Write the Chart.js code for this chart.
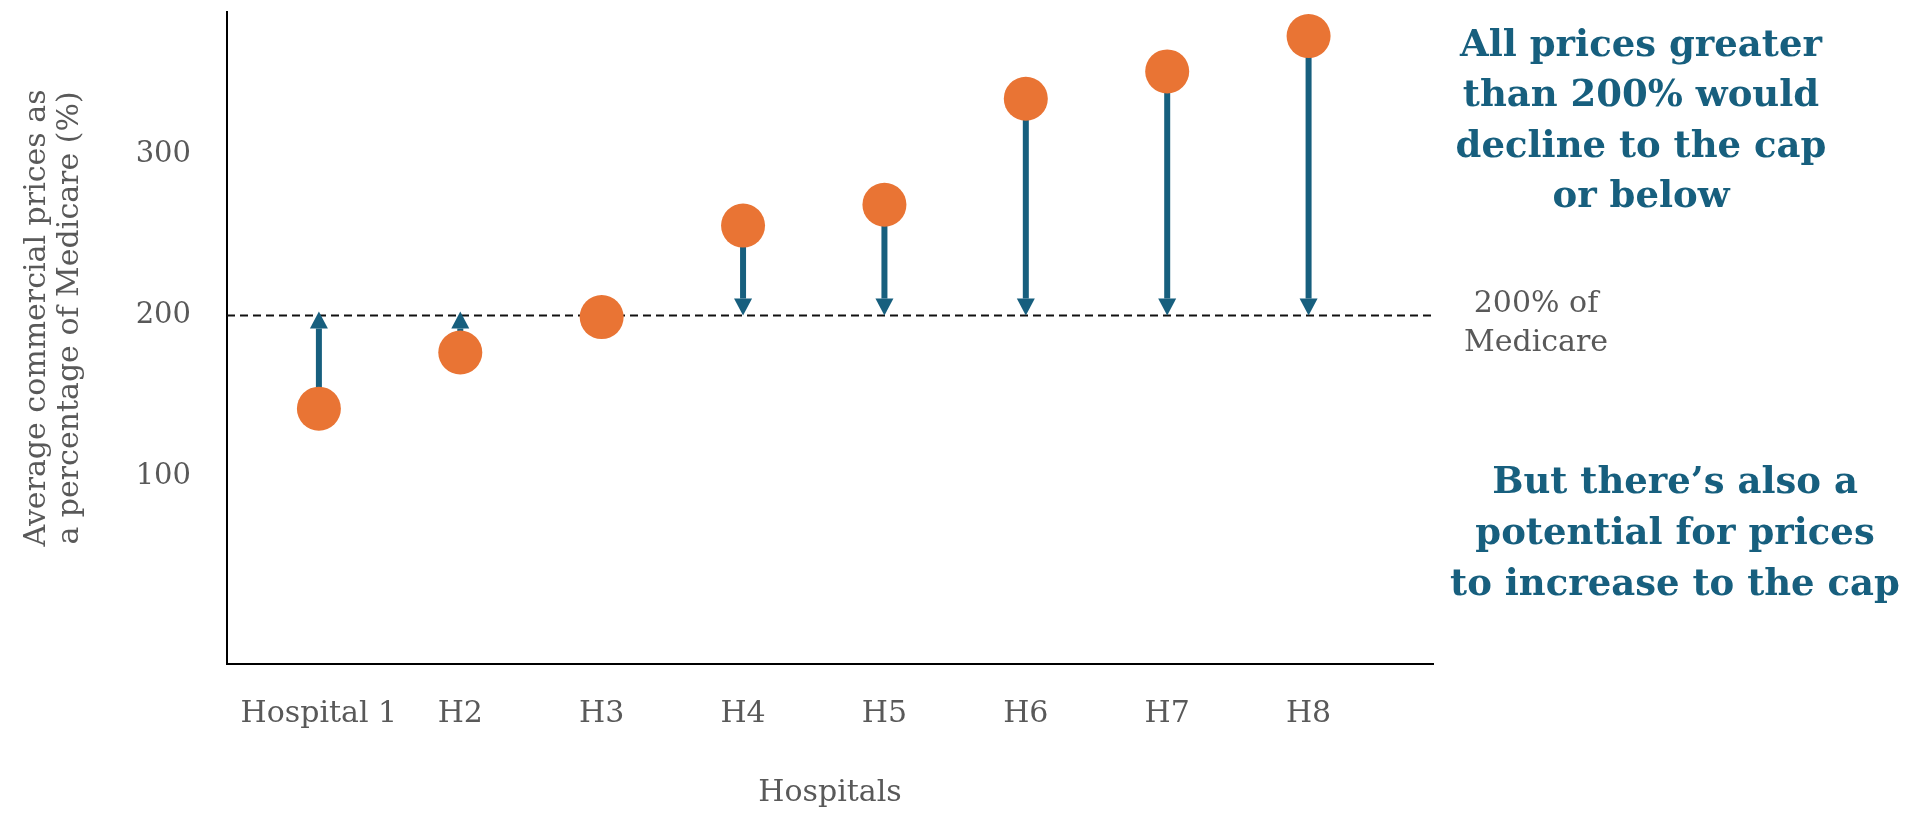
<!DOCTYPE html>
<html>
<head>
<meta charset="utf-8">
<script src="https://cdn.jsdelivr.net/npm/chart.js@4.4.1/dist/chart.umd.min.js"></script>
<style>
  html, body { margin: 0; padding: 0; background: #ffffff; overflow: hidden; }
  #wrap { position: relative; width: 1921px; height: 814px; }
</style>
</head>
<body>
<div id="wrap"><canvas id="chart"></canvas></div>
<script>
// Hospitals and their average commercial price as a % of Medicare
const hospitals = ['Hospital 1', 'H2', 'H3', 'H4', 'H5', 'H6', 'H7', 'H8'];
const pricePct = [142, 177, 199, 256, 269, 335, 352, 374];
// Proposed cap: 200% of Medicare
const capPct = 200;
const yTickValues = [100, 200, 300];

const yTitleLines = ['Average commercial prices as', 'a percentage of Medicare (%)'];
const xTitleText = 'Hospitals';
const capLabelLines = ['200% of', 'Medicare'];
const declineNote = ['All prices greater', 'than 200% would', 'decline to the cap', 'or below'];
const increaseNote = ['But there\u2019s also a', 'potential for prices', 'to increase to the cap'];

const ORANGE = '#E97434';
const TEAL = '#175F7E';
const GRAY = '#595959';
const SERIF = "'DejaVu Serif', 'Liberation Serif', serif";

// Arrows from each price to the cap, the dashed cap line, and the side notes
const capAnnotations = {
  id: 'capAnnotations',
  beforeDatasetsDraw(chart) {
    const { ctx, chartArea, scales: { x, y } } = chart;
    const yCap = y.getPixelForValue(capPct);

    // dashed cap line
    ctx.save();
    ctx.strokeStyle = '#111111';
    ctx.lineWidth = 2;
    ctx.setLineDash([8, 5]);
    ctx.beginPath();
    ctx.moveTo(chartArea.left, yCap);
    ctx.lineTo(chartArea.right, yCap);
    ctx.stroke();
    ctx.restore();

    // arrows
    const radius = chart.data.datasets[0].pointRadius;
    ctx.save();
    ctx.strokeStyle = TEAL;
    ctx.fillStyle = TEAL;
    ctx.lineWidth = 6;
    pricePct.forEach((v, i) => {
      const px = x.getPixelForValue(i);
      const py = y.getPixelForValue(v);
      if (Math.abs(py - yCap) <= radius) return;
      const up = py > yCap;
      const tip = up ? yCap - 4 : yCap;
      const headLen = 17, headHalf = 9;
      const base = up ? tip + headLen : tip - headLen;
      ctx.beginPath();
      ctx.moveTo(px, py);
      ctx.lineTo(px, base);
      ctx.stroke();
      ctx.beginPath();
      ctx.moveTo(px - headHalf, base);
      ctx.lineTo(px + headHalf, base);
      ctx.lineTo(px, tip);
      ctx.closePath();
      ctx.fill();
    });
    ctx.restore();
  },
  afterDraw(chart) {
    const { ctx, chartArea, scales: { y } } = chart;
    const yCap = y.getPixelForValue(capPct);
    ctx.save();
    ctx.textAlign = 'center';
    ctx.textBaseline = 'middle';

    // y-axis title, two rotated lines
    ctx.fillStyle = GRAY;
    ctx.font = `30px ${SERIF}`;
    const midY = (chartArea.top + chartArea.bottom) / 2 - 20;
    yTitleLines.forEach((line, i) => {
      ctx.save();
      ctx.translate(37 + i * 33, midY);
      ctx.rotate(-Math.PI / 2);
      ctx.fillText(line, 0, 0);
      ctx.restore();
    });

    // cap label
    capLabelLines.forEach((line, i) => {
      ctx.fillText(line, chartArea.right + 103, yCap - 11 + i * 39);
    });

    // notes
    ctx.fillStyle = TEAL;
    ctx.font = `bold 37px ${SERIF}`;
    declineNote.forEach((line, i) => {
      ctx.fillText(line, chartArea.right + 208, 46 + i * 50.5);
    });
    increaseNote.forEach((line, i) => {
      ctx.fillText(line, chartArea.right + 242, 483 + i * 51);
    });
    ctx.restore();
  }
};

new Chart(document.getElementById('chart'), {
  type: 'scatter',
  data: {
    datasets: [{
      data: pricePct.map((v, i) => ({ x: i, y: v })),
      pointRadius: 22,
      pointHoverRadius: 22,
      backgroundColor: ORANGE,
      borderWidth: 0,
      pointBorderWidth: 0,
      clip: false
    }]
  },
  options: {
    responsive: true,
    maintainAspectRatio: false,
    animation: false,
    events: [],
    layout: { autoPadding: false, padding: { top: 12, right: 488, left: 0, bottom: 0 } },
    plugins: {
      legend: { display: false },
      tooltip: { enabled: false }
    },
    scales: {
      x: {
        type: 'linear',
        min: -0.65,
        max: 7.88,
        afterBuildTicks: (s) => { s.ticks = hospitals.map((_, i) => ({ value: i })); },
        afterFit: (s) => { s.height = 150; s.paddingLeft = 0; s.paddingRight = 0; },
        grid: { display: false },
        border: { display: true, color: '#000000', width: 2 },
        ticks: {
          callback: (v) => hospitals[v],
          color: GRAY,
          font: { family: SERIF, size: 30 },
          padding: 24,
          autoSkip: false,
          maxRotation: 0
        },
        title: {
          display: true,
          text: xTitleText,
          color: GRAY,
          font: { family: SERIF, size: 30 },
          padding: { top: 0, bottom: 3 }
        }
      },
      y: {
        min: -17,
        max: 389,
        afterBuildTicks: (s) => { s.ticks = yTickValues.map((v) => ({ value: v })); },
        afterFit: (s) => { s.width = 227; s.paddingTop = 0; s.paddingBottom = 0; },
        grid: { display: false },
        border: { display: true, color: '#000000', width: 2 },
        ticks: {
          color: GRAY,
          font: { family: SERIF, size: 29 },
          padding: 28
        }
      }
    }
  },
  plugins: [capAnnotations]
});
</script>
</body>
</html>
